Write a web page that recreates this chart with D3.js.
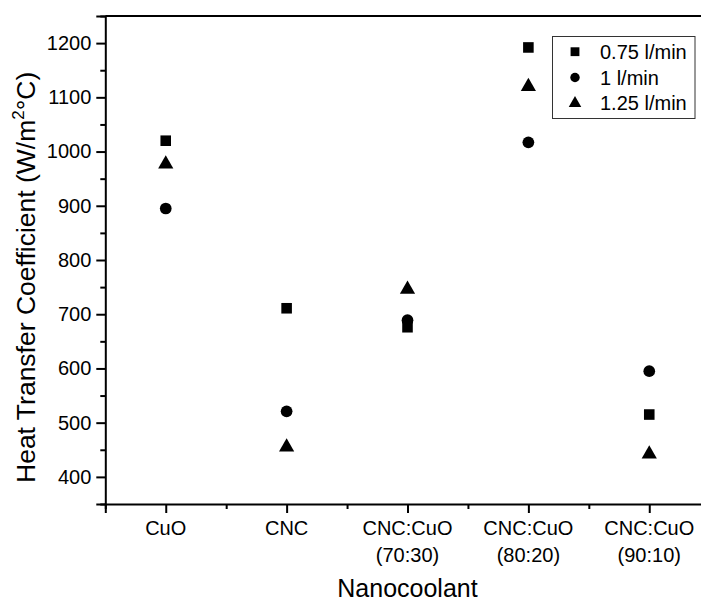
<!DOCTYPE html>
<html>
<head>
<meta charset="utf-8">
<script src="https://cdn.jsdelivr.net/npm/d3@7"></script>
<style>
  html, body { margin: 0; padding: 0; background: #fff; }
  svg { display: block; font-family: Arial, "Liberation Sans", Helvetica, sans-serif; }
</style>
</head>
<body>
<svg id="chart" width="701" height="603"></svg>
<script>
const categories = [["CuO"], ["CNC"], ["CNC:CuO", "(70:30)"], ["CNC:CuO", "(80:20)"], ["CNC:CuO", "(90:10)"]];
const seriesNames = ["0.75 l/min", "1 l/min", "1.25 l/min"];
const flow075 = [1020, 711, 676, 1192, 515];
const flow100 = [895, 521, 689, 1017, 595];
const flow125 = [977, 455, 746, 1120, 442];
const yTicks = [400, 500, 600, 700, 800, 900, 1000, 1100, 1200];
const yMinorTicks = [350, 450, 550, 650, 750, 850, 950, 1050, 1150, 1250];
const xMinorTicks = [0.5, 1.5, 2.5, 3.5, 4.5];
const xLabel = "Nanocoolant";

const series = [
  { name: seriesNames[0], values: flow075, symbol: d3.symbolSquare, size: 112, legSize: 78 },
  { name: seriesNames[1], values: flow100, symbol: d3.symbolCircle, size: 108, legSize: 70 },
  { name: seriesNames[2], values: flow125, symbol: d3.symbolTriangle, size: 100, legSize: 68 }
];

const svg = d3.select("#chart");
const mLeft = 105.3, mTop = 16, mBottom = 504;
const x = d3.scaleLinear().domain([0.5, 5.5]).range([mLeft, 709.7]);
const y = d3.scaleLinear().domain([350, 1250]).range([mBottom, mTop]);

const g = svg.append("g");

// top border line (right border lies outside the visible area)
g.append("line").attr("x1", mLeft).attr("x2", 720).attr("y1", mTop).attr("y2", mTop)
  .attr("stroke", "#000").attr("stroke-width", 2);

// Y axis
const yAxis = d3.axisLeft(y).tickValues(yTicks).tickSize(9).tickPadding(5).tickFormat(d3.format("d"));
const ya = g.append("g").attr("transform", `translate(${mLeft},0)`).call(yAxis);
ya.select(".domain").attr("stroke-width", 2);
ya.selectAll(".tick line").attr("stroke-width", 2);
ya.selectAll(".tick text").attr("font-size", 20).attr("fill", "#000").attr("font-family", "Arial, 'Liberation Sans', sans-serif");
const yMinor = d3.axisLeft(y).tickValues(yMinorTicks).tickSize(5).tickFormat("");
const ym = g.append("g").attr("transform", `translate(${mLeft},0)`).call(yMinor);
ym.select(".domain").remove();
ym.selectAll(".tick line").attr("stroke-width", 2);

// X axis
const xAxis = d3.axisBottom(x).tickValues([1, 2, 3, 4, 5]).tickSize(9).tickFormat("");
const xa = g.append("g").attr("transform", `translate(0,${mBottom})`).call(xAxis);
xa.select(".domain").attr("stroke-width", 2);
xa.selectAll(".tick line").attr("stroke-width", 2);
const xMinor = d3.axisBottom(x).tickValues(xMinorTicks).tickSize(5).tickFormat("");
const xm = g.append("g").attr("transform", `translate(0,${mBottom})`).call(xMinor);
xm.select(".domain").remove();
xm.selectAll(".tick line").attr("stroke-width", 2);

// X category labels (multi-line)
categories.forEach((lines, i) => {
  const t = g.append("text").attr("text-anchor", "middle").attr("font-size", 20).attr("fill", "#000");
  lines.forEach((ln, j) => {
    t.append("tspan").attr("x", x(i + 1)).attr("y", 535 + j * 27).text(ln);
  });
});

// Axis titles
g.append("text").attr("x", x(3)).attr("y", 597).attr("text-anchor", "middle")
  .attr("font-size", 25).attr("fill", "#000").text(xLabel);

const yt = g.append("text").attr("transform", "translate(35,483) rotate(-90)")
  .attr("text-anchor", "start").attr("font-size", 26.5).attr("fill", "#000");
yt.append("tspan").text("Heat Transfer Coefficient (W/m");
yt.append("tspan").attr("font-size", 17).attr("dy", -11).text("2");
yt.append("tspan").attr("font-size", 26.5).attr("dy", 11).text("°C)");

// Points
series.forEach(s => {
  g.selectAll(null).data(s.values).enter().append("path")
    .attr("d", d3.symbol().type(s.symbol).size(s.size))
    .attr("transform", (d, i) => `translate(${x(i + 1)},${y(d)})`)
    .attr("fill", "#000");
});

// Legend
const lg = g.append("g");
lg.append("rect").attr("x", 552.5).attr("y", 36.5).attr("width", 142.5).attr("height", 82)
  .attr("fill", "#fff").attr("stroke", "#333").attr("stroke-width", 1);
series.forEach((s, i) => {
  const cy = 51.7 + i * 25.8;
  lg.append("path").attr("d", d3.symbol().type(s.symbol).size(s.legSize))
    .attr("transform", `translate(575,${cy})`).attr("fill", "#000");
  lg.append("text").attr("x", 600).attr("y", cy + 7).attr("font-size", 20).attr("fill", "#000").text(s.name);
});
</script>
</body>
</html>
